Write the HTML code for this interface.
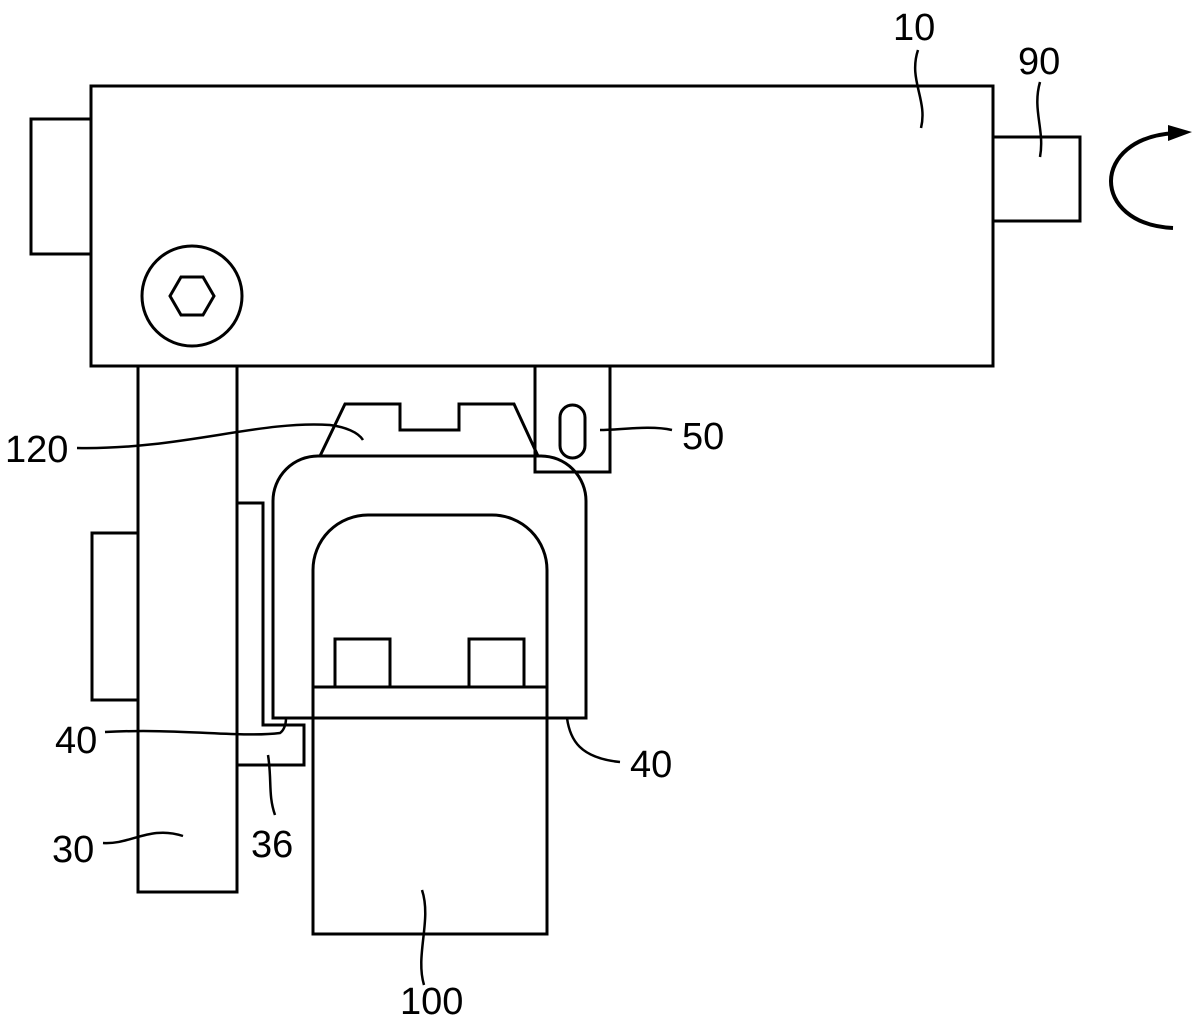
<!DOCTYPE html>
<html><head><style>html,body{margin:0;padding:0;background:#fff}svg{display:block}</style></head>
<body>
<svg width="1200" height="1022" viewBox="0 0 1200 1022" xmlns="http://www.w3.org/2000/svg">
<g fill="none" stroke="#000" stroke-width="3" stroke-linejoin="miter">
<rect x="31" y="119" width="60" height="135"/>
<rect x="91" y="86" width="902" height="280"/>
<rect x="993" y="137" width="87" height="84"/>
<circle cx="192" cy="296" r="50"/>
<polygon points="214,296 203,315 181,315 170,296 181,277 203,277"/>
<rect x="138" y="366" width="99" height="526"/>
<rect x="92" y="533" width="46" height="167"/>
<path d="M237,503 H263 V725 H304 V765 H237"/>
<path d="M535,366 V472 H610 V366"/>
<rect x="560" y="405" width="25" height="53" rx="12.5"/>
<path d="M320,456 L345,404 H400 V430 H459 V404 H514 L538,456"/>
<path d="M273,718 V501 A45,45 0 0 1 318,456 H541 A45,45 0 0 1 586,501 V718 Z"/>
<path d="M313,718 V570 A55,55 0 0 1 368,515 H492 A55,55 0 0 1 547,570 V718"/>
<rect x="313" y="687" width="234" height="31"/>
<rect x="335" y="639" width="55" height="48"/>
<rect x="469" y="639" width="55" height="48"/>
<rect x="313" y="718" width="234" height="216"/>
</g>
<g fill="none" stroke="#000" stroke-width="2.5">
<path d="M1173,228 C1090,224 1090,138 1175,133" stroke-width="4"/>
<path d="M921,128 C928,100 908,80 918,50"/>
<path d="M1040,157 C1045,130 1032,110 1040,82"/>
<path d="M77,448 C180,450 260,420 330,425 C345,427 358,432 363,440"/>
<path d="M672,430 C650,425 620,430 600,430"/>
<path d="M105,732 C180,728 240,738 280,733 C283,731 286,726 286,718"/>
<path d="M567,718 C570,740 580,758 620,762"/>
<path d="M275,815 C268,795 272,780 268,755"/>
<path d="M103,843 C130,845 150,825 183,836"/>
<path d="M424,985 C415,955 432,920 422,890"/>
</g>
<polygon points="1168,125 1192,132 1168,141" fill="#000"/>
<g font-family="'Liberation Sans',sans-serif" font-size="38" fill="#000">
<text x="893" y="40">10</text>
<text x="1018" y="74">90</text>
<text x="5" y="462">120</text>
<text x="682" y="449">50</text>
<text x="55" y="753">40</text>
<text x="630" y="777">40</text>
<text x="52" y="862">30</text>
<text x="251" y="857">36</text>
<text x="400" y="1014">100</text>
</g>
</svg>
</body></html>
